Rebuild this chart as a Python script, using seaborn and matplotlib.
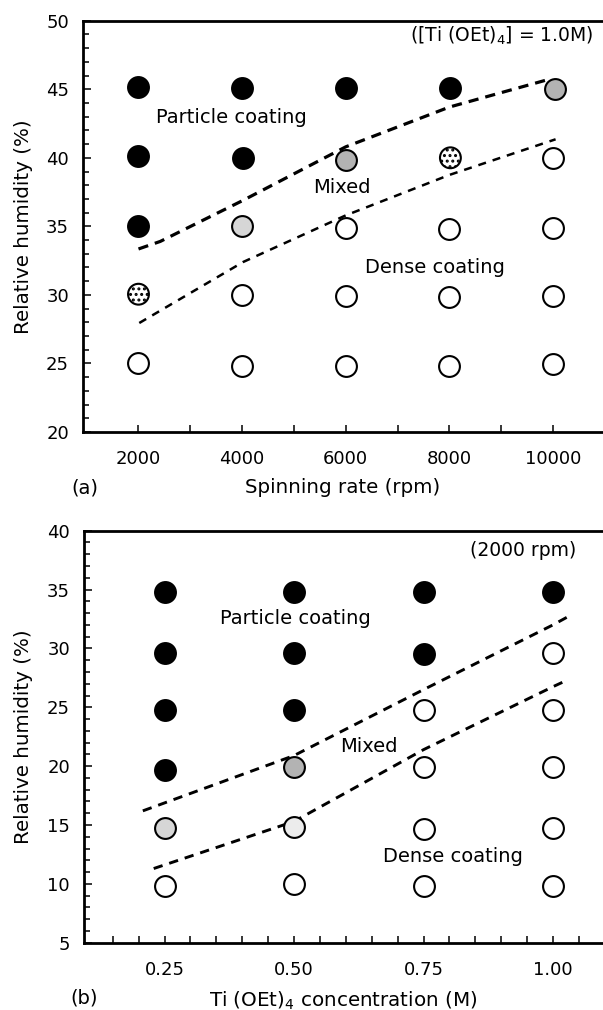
import matplotlib
matplotlib.use("Agg")
import matplotlib.pyplot as plt
from matplotlib.ticker import MultipleLocator, FixedLocator
import seaborn as sns
import pandas as pd

sns.set_theme(style="ticks")
plt.rcParams['font.family'] = ['DejaVu Sans']
plt.rcParams['mathtext.fontset'] = 'dejavusans'
plt.rcParams['hatch.linewidth'] = 1.4
for k in ['text.color', 'axes.labelcolor', 'xtick.color', 'ytick.color', 'axes.edgecolor']:
    plt.rcParams[k] = 'black'

# ---------------- data : panel (a) ----------------
a_rate = [2000, 4000, 6000, 8020, 10030,
          2000, 4020, 6000, 8020, 10000,
          2000, 4000, 6000, 8000, 10000,
          2000, 4000, 6000, 8000, 10000,
          2000, 4000, 6000, 8000, 10000]
a_rh = [45.2, 45.1, 45.1, 45.1, 45.0,
        40.1, 40.0, 39.85, 40.0, 39.95,
        35.0, 35.0, 34.9, 34.8, 34.9,
        30.05, 30.0, 29.9, 29.85, 29.9,
        25.0, 24.85, 24.85, 24.8, 24.95]
a_type = ['P', 'P', 'P', 'P', 'G',
          'P', 'P', 'G', 'D', 'O',
          'P', 'L', 'O', 'O', 'O',
          'D', 'O', 'O', 'O', 'O',
          'O', 'O', 'O', 'O', 'O']
a_upper_x = [2000, 2420, 4020, 6000, 8000, 9900]
a_upper_y = [33.35, 33.9, 36.9, 40.8, 43.7, 45.7]
a_lower_x = [2015, 4020, 6000, 8000, 10050]
a_lower_y = [27.95, 32.4, 35.8, 38.75, 41.35]

# ---------------- data : panel (b) ----------------
b_conc = [0.25, 0.50, 0.75, 1.00,
          0.25, 0.50, 0.75, 1.00,
          0.25, 0.50, 0.75, 1.00,
          0.25, 0.50, 0.75, 1.00,
          0.25, 0.50, 0.75, 1.00,
          0.25, 0.50, 0.75, 1.00]
b_rh = [34.8, 34.8, 34.8, 34.8,
        29.6, 29.65, 29.55, 29.6,
        24.75, 24.8, 24.8, 24.8,
        19.65, 19.9, 19.9, 19.9,
        14.75, 14.85, 14.7, 14.75,
        9.85, 9.95, 9.8, 9.8]
b_type = ['P', 'P', 'P', 'P',
          'P', 'P', 'P', 'O',
          'P', 'P', 'O', 'O',
          'P', 'G', 'O', 'O',
          'L', 'V', 'O', 'O',
          'O', 'O', 'O', 'O']
b_upper_x = [0.208, 0.50, 0.75, 1.00, 1.027]
b_upper_y = [16.2, 20.9, 26.5, 32.0, 32.65]
b_lower_x = [0.229, 0.50, 0.75, 1.00, 1.027]
b_lower_y = [11.3, 15.3, 21.4, 26.75, 27.3]

styles = {
    'P': dict(color='black', hatch=None),
    'G': dict(color='#b3b3b3', hatch=None),
    'L': dict(color='#d6d6d6', hatch=None),
    'V': dict(color='#ececec', hatch=None),
    'D': dict(color='white', hatch='...'),
    'O': dict(color='white', hatch=None),
}

fig = plt.figure(figsize=(6.03, 10.10), dpi=100)
ax1 = fig.add_axes([83 / 603, 1 - 432 / 1010, 520 / 603, 411.3 / 1010])
ax2 = fig.add_axes([84 / 603, 1 - 942.7 / 1010, 519 / 603, 412 / 1010])


def draw_points(ax, xs, ys, types):
    df = pd.DataFrame({'x': xs, 'y': ys, 't': types})
    for t, sub in df.groupby('t'):
        st = styles[t]
        kw = {}
        if st['hatch']:
            kw['hatch'] = st['hatch']
        sns.scatterplot(data=sub, x='x', y='y', ax=ax, color=st['color'],
                        edgecolor='black', linewidth=1.5, s=225,
                        legend=False, zorder=3, **kw)


def draw_line(ax, xs, ys, lw, dashes):
    sns.lineplot(x=xs, y=ys, ax=ax, color='black', lw=lw, sort=False,
                 estimator=None, legend=False, zorder=2)
    ax.lines[-1].set_dashes(dashes)
    ax.lines[-1].set_dash_capstyle('butt')


def style_axes(ax):
    for s in ['left', 'top', 'bottom']:
        ax.spines[s].set_linewidth(2.0)
        ax.spines[s].set_color('black')
    ax.spines['right'].set_visible(False)
    ax.tick_params(axis='y', which='major', direction='in', length=6,
                   width=1.1, labelsize=13, pad=10, right=False)
    ax.tick_params(axis='y', which='minor', direction='in', length=4,
                   width=1.1, right=False)
    ax.tick_params(axis='x', which='both', direction='in', length=5,
                   width=1.1, labelsize=13, pad=13, top=False)
    ax.set_facecolor('white')


# ---------------- panel (a) ----------------
draw_points(ax1, a_rate, a_rh, a_type)
draw_line(ax1, a_upper_x, a_upper_y, 2.3, [3.2, 2.2])
draw_line(ax1, a_lower_x, a_lower_y, 1.8, [3.2, 2.8])
ax1.set_xlim(929, 10965)
ax1.set_ylim(20, 50)
ax1.xaxis.set_major_locator(FixedLocator([2000, 4000, 6000, 8000, 10000]))
ax1.xaxis.set_minor_locator(FixedLocator([3000, 5000, 7000, 9000]))
ax1.yaxis.set_major_locator(MultipleLocator(5))
ax1.yaxis.set_minor_locator(MultipleLocator(1))
style_axes(ax1)
ax1.set_xlabel('Spinning rate (rpm)', fontsize=14.3)
ax1.set_ylabel('Relative humidity (%)', fontsize=14.3)
ax1.xaxis.set_label_coords(0.5, -0.113)
ax1.yaxis.set_label_coords(-0.096, 0.5)
ax1.text(10790, 48.9, r'([Ti (OEt)$_4$] = 1.0M)', ha='right', va='center', fontsize=13.5)
ax1.text(2334, 42.97, 'Particle coating', ha='left', va='center', fontsize=14)
ax1.text(5377, 37.86, 'Mixed', ha='left', va='center', fontsize=14)
ax1.text(6379, 32.0, 'Dense coating', ha='left', va='center', fontsize=14)

# ---------------- panel (b) ----------------
draw_points(ax2, b_conc, b_rh, b_type)
draw_line(ax2, b_upper_x, b_upper_y, 2.1, [3.2, 2.4])
draw_line(ax2, b_lower_x, b_lower_y, 2.1, [3.2, 2.4])
ax2.set_xlim(0.0944, 1.0965)
ax2.set_ylim(5, 40)
ax2.xaxis.set_major_locator(FixedLocator([0.25, 0.50, 0.75, 1.00]))
ax2.xaxis.set_minor_locator(FixedLocator([0.15, 0.20, 0.30, 0.35, 0.40, 0.45,
                                          0.55, 0.60, 0.65, 0.70, 0.80, 0.85,
                                          0.90, 0.95, 1.05]))
ax2.set_xticklabels(['0.25', '0.50', '0.75', '1.00'])
ax2.yaxis.set_major_locator(MultipleLocator(5))
ax2.yaxis.set_minor_locator(MultipleLocator(1))
style_axes(ax2)
ax2.set_xlabel(r'Ti (OEt)$_4$ concentration (M)', fontsize=14.3)
ax2.set_ylabel('Relative humidity (%)', fontsize=14.3)
ax2.xaxis.set_label_coords(0.5, -0.113)
ax2.yaxis.set_label_coords(-0.098, 0.5)
ax2.text(1.044, 38.36, '(2000 rpm)', ha='right', va='center', fontsize=13.5)
ax2.text(0.357, 32.56, 'Particle coating', ha='left', va='center', fontsize=14)
ax2.text(0.589, 21.65, 'Mixed', ha='left', va='center', fontsize=14)
ax2.text(0.671, 12.3, 'Dense coating', ha='left', va='center', fontsize=14)

fig.text(84.6 / 603, 1 - 488 / 1010, '(a)', ha='center', va='center', fontsize=14)
fig.text(84.6 / 603, 1 - 998 / 1010, '(b)', ha='center', va='center', fontsize=14)

fig.savefig('out.png', dpi=100, facecolor='white')
